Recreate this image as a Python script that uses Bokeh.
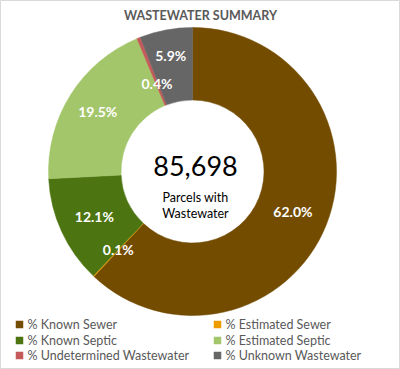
import math
from bokeh.plotting import figure
from bokeh.models import Range1d, ColumnDataSource
from bokeh.core.properties import value
from bokeh.embed import file_html
from bokeh.resources import INLINE

# ---- data ----
categories = ["% Known Sewer", "% Estimated Sewer", "% Known Septic",
              "% Estimated Septic", "% Undetermined Wastewater", "% Unknown Wastewater"]
percents = [62.0, 0.1, 12.1, 19.5, 0.4, 5.9]
colors = ["#734C00", "#EE9B00", "#4C7511", "#A3C66A", "#C55A5A", "#666666"]
total_parcels = "85,698"
center_caption = ["Parcels with", "Wastewater"]
title = "WASTEWATER SUMMARY"

# ---- layout (pixels) ----
W, H = 400, 369
cx, cy = 192, 198
r_out, r_in = 144, 71.5
label_r = [108, 108, 108, 112, 95, 118]
FONT = "Lato"

p = figure(width=W, height=H, output_backend="svg", toolbar_location=None,
           x_range=Range1d(0, W), y_range=Range1d(0, H), min_border=0,
           background_fill_color="white", border_fill_color="white")
p.axis.visible = False
p.grid.visible = False
p.outline_line_color = "#D9D9D9"

tot = sum(percents)
starts, ends, mids = [], [], []
cum = 0.0
for v in percents:
    a0 = math.pi / 2 - 2 * math.pi * cum / tot
    cum += v
    a1 = math.pi / 2 - 2 * math.pi * cum / tot
    starts.append(a0)
    ends.append(a1)
    mids.append((a0 + a1) / 2)

src = ColumnDataSource(dict(start=starts, end=ends, color=colors))
p.annular_wedge(x=cx, y=cy, inner_radius=r_in, outer_radius=r_out,
                start_angle="start", end_angle="end", direction="clock",
                fill_color="color", line_color="color", line_width=0.5, source=src)

# data labels
lx = [cx + r * math.cos(a) for r, a in zip(label_r, mids)]
ly = [cy + r * math.sin(a) for r, a in zip(label_r, mids)]
lt = ["%.1f%%" % v for v in percents]
p.text(x=lx, y=ly, text=lt, text_color="white", text_font=value(FONT),
       text_font_style="bold", text_font_size="14px",
       text_align="center", text_baseline="middle")

# center text
p.text(x=[cx + 3], y=[cy + 6], text=[total_parcels], text_color="black",
       text_font=value(FONT), text_font_size="27px",
       text_align="center", text_baseline="middle")
p.text(x=[cx + 3, cx + 3], y=[cy - 26, cy - 42], text=center_caption,
       text_color="black", text_font=value(FONT), text_font_size="12.5px",
       text_align="center", text_baseline="middle")

# title
p.text(x=[W / 2], y=[354], text=[title], text_color="#595959",
       text_font=value(FONT), text_font_style="bold", text_font_size="12.5px",
       text_align="center", text_baseline="middle")

# legend (2 columns, row-major)
col_x = [15, 213]
row_y = [45, 29, 14]
mx, my, tx = [], [], []
for i, c in enumerate(categories):
    col = i % 2
    row = i // 2
    mx.append(col_x[col] + 4)
    my.append(row_y[row])
    tx.append(col_x[col] + 12)
p.scatter(x=mx, y=my, marker="square", size=7.5, fill_color=colors, line_color=None)
p.text(x=tx, y=my, text=categories, text_color="#595959", text_font=value(FONT),
       text_font_size="12.5px", text_align="left", text_baseline="middle")

open("out.html", "w").write(file_html(p, INLINE))
